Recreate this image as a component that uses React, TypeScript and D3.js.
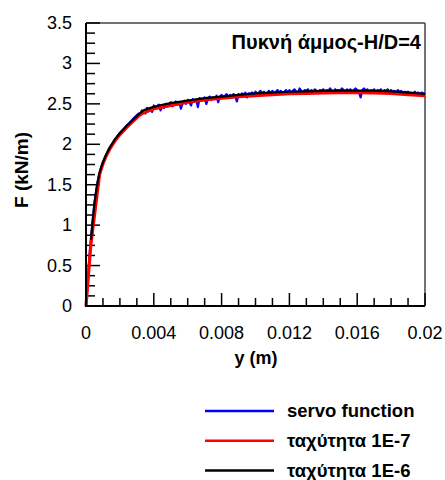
import React from "react";
import * as d3 from "d3";

const W = 445;
const H = 480;
const M = { left: 86, right: 425, top: 23, bottom: 306 };

const yTickLabels = ["0", "0.5", "1", "1.5", "2", "2.5", "3", "3.5"];
const xTickLabels = ["0", "0.004", "0.008", "0.012", "0.016", "0.02"];
const seriesNames = ["servo function", "ταχύτητα 1E-7", "ταχύτητα 1E-6"];
const seriesColors = ["#0000ff", "#ff0000", "#000000"];
const title = "Πυκνή άμμος-H/D=4";

// 1E-6 (black)
const blackX = [0.0003, 0.0004, 0.0005, 0.0006, 0.0007, 0.0008, 0.0009, 0.001, 0.0012, 0.0014, 0.0017, 0.002, 0.0024, 0.0028, 0.0031, 0.0034, 0.0038, 0.0043, 0.005, 0.006, 0.007, 0.008, 0.009, 0.01, 0.011, 0.012, 0.013, 0.014, 0.015, 0.016, 0.017, 0.018, 0.019, 0.0197, 0.02];
const blackF = [0.82, 1.07, 1.27, 1.43, 1.55, 1.65, 1.72, 1.78, 1.88, 1.96, 2.06, 2.14, 2.23, 2.31, 2.37, 2.42, 2.45, 2.48, 2.51, 2.54, 2.57, 2.59, 2.61, 2.63, 2.64, 2.65, 2.655, 2.66, 2.663, 2.665, 2.662, 2.655, 2.64, 2.628, 2.62];

// 1E-7 (red)
const redX = [0, 0.00028, 0.0008, 0.001, 0.0012, 0.0014, 0.0017, 0.002, 0.0024, 0.0028, 0.0031, 0.0034, 0.004, 0.005, 0.006, 0.007, 0.008, 0.009, 0.01, 0.011, 0.012, 0.013, 0.014, 0.015, 0.016, 0.017, 0.018, 0.019, 0.02];
const redF = [0, 0.75, 1.63, 1.76, 1.86, 1.94, 2.04, 2.12, 2.21, 2.29, 2.35, 2.39, 2.44, 2.48, 2.52, 2.55, 2.57, 2.59, 2.60, 2.615, 2.625, 2.63, 2.635, 2.64, 2.64, 2.635, 2.63, 2.615, 2.60];

// servo function (blue): smooth start, then noisy samples every 0.0001 from 0.003
const blueEarlyX = [0, 0.0001, 0.0002, 0.0003, 0.0005, 0.0007, 0.001, 0.0014, 0.002, 0.0025, 0.0029];
const blueEarlyF = [0, 0.3, 0.6, 0.86, 1.28, 1.55, 1.78, 1.96, 2.14, 2.25, 2.34];
const blueNoisyStart = 0.003;
const blueNoisyStep = 0.0001;
const blueNoisyF = [
  2.36, 2.38, 2.37, 2.42, 2.40, 2.38, 2.45, 2.41, 2.43, 2.40,
  2.48, 2.44, 2.47, 2.49, 2.42, 2.48, 2.45, 2.50, 2.47, 2.49,
  2.52, 2.47, 2.50, 2.53, 2.49, 2.52, 2.44, 2.51, 2.54, 2.50,
  2.55, 2.52, 2.48, 2.56, 2.53, 2.55, 2.46, 2.57, 2.54, 2.56,
  2.58, 2.50, 2.57, 2.59, 2.55, 2.58, 2.56, 2.60, 2.52, 2.59,
  2.61, 2.58, 2.60, 2.62, 2.57, 2.61, 2.59, 2.62, 2.60, 2.53,
  2.62, 2.60, 2.63, 2.61, 2.64, 2.58, 2.63, 2.62, 2.64, 2.61,
  2.65, 2.62, 2.64, 2.66, 2.63, 2.65, 2.61, 2.64, 2.66, 2.63,
  2.66, 2.63, 2.65, 2.67, 2.64, 2.66, 2.62, 2.65, 2.67, 2.64,
  2.67, 2.64, 2.66, 2.68, 2.65, 2.63, 2.69, 2.66, 2.64, 2.67,
  2.66, 2.68, 2.64, 2.67, 2.65, 2.68, 2.66, 2.63, 2.67, 2.66,
  2.68, 2.65, 2.67, 2.66, 2.69, 2.66, 2.64, 2.68, 2.66, 2.67,
  2.66, 2.69, 2.67, 2.65, 2.68, 2.66, 2.68, 2.65, 2.67, 2.69,
  2.67, 2.65, 2.58, 2.67, 2.69, 2.66, 2.68, 2.65, 2.67, 2.66,
  2.68, 2.65, 2.67, 2.66, 2.68, 2.64, 2.67, 2.66, 2.68, 2.65,
  2.67, 2.65, 2.66, 2.64, 2.67, 2.65, 2.66, 2.63, 2.65, 2.64,
  2.65, 2.63, 2.64, 2.62, 2.65, 2.63, 2.64, 2.62, 2.64, 2.63,
  2.62,
];

const FONT = "'Liberation Sans', Arial, Helvetica, sans-serif";

export default function App() {
  const x = d3.scaleLinear().domain([0, 0.02]).range([M.left, M.right]);
  const y = d3.scaleLinear().domain([0, 3.5]).range([M.bottom, M.top]);
  const line = d3
    .line<[number, number]>()
    .x((d) => x(d[0]))
    .y((d) => y(d[1]));

  const black: [number, number][] = blackX.map((v, i) => [v, blackF[i]]);
  const red: [number, number][] = redX.map((v, i) => [v, redF[i]]);
  const blue: [number, number][] = [
    ...blueEarlyX.map((v, i) => [v, blueEarlyF[i]] as [number, number]),
    ...blueNoisyF.map((f, i) => [blueNoisyStart + i * blueNoisyStep, f] as [number, number]),
  ];

  const yTicks = d3.range(0, 28 + 1).map((i) => i * 0.125);
  const xTicks = d3.range(0, 20 + 1).map((i) => i * 0.001);

  return (
    <svg
      width={W}
      height={H}
      style={{ position: "absolute", left: 0, top: 0, background: "#fff" }}
      fontFamily={FONT}
    >
      <rect x={0} y={0} width={W} height={H} fill="#fff" />
      {/* frame */}
      <line x1={M.left} x2={M.right} y1={M.top} y2={M.top} stroke="#444" strokeWidth={1.5} />
      <line x1={M.right} x2={M.right} y1={M.top} y2={M.bottom} stroke="#444" strokeWidth={1.5} />
      {/* y ticks */}
      {yTicks.map((t, i) => (
        <line
          key={"yt" + i}
          x1={M.left}
          x2={M.left + (i % 4 === 0 ? 14 : 9)}
          y1={y(t)}
          y2={y(t)}
          stroke="#000"
          strokeWidth={1.5}
        />
      ))}
      {/* x ticks */}
      {xTicks.map((t, i) => (
        <line
          key={"xt" + i}
          x1={x(t)}
          x2={x(t)}
          y1={M.bottom}
          y2={M.bottom - (i % 4 === 0 ? 13 : 8)}
          stroke="#000"
          strokeWidth={1.5}
        />
      ))}
      {/* data */}
      <path d={line(blue) || ""} fill="none" stroke={seriesColors[0]} strokeWidth={2.2} strokeLinejoin="round" />
      <path d={line(red) || ""} fill="none" stroke={seriesColors[1]} strokeWidth={3.2} strokeLinejoin="round" />
      <path d={line(black) || ""} fill="none" stroke={seriesColors[2]} strokeWidth={2.2} strokeLinejoin="round" />
      {/* axes */}
      <line x1={M.left} x2={M.left} y1={M.top} y2={M.bottom + 1} stroke="#000" strokeWidth={2} />
      <line x1={M.left - 1} x2={M.right} y1={M.bottom} y2={M.bottom} stroke="#000" strokeWidth={2} />
      {/* y tick labels */}
      {yTickLabels.map((s) => (
        <text
          key={"yl" + s}
          x={72}
          y={y(+s)}
          textAnchor="end"
          dominantBaseline="central"
          fontSize={18}
          fill="#000"
        >
          {s}
        </text>
      ))}
      {/* x tick labels */}
      {xTickLabels.map((s) => (
        <text key={"xl" + s} x={x(+s)} y={339} textAnchor="middle" fontSize={18} fill="#000">
          {s}
        </text>
      ))}
      {/* axis titles */}
      <text x={256} y={364} textAnchor="middle" fontSize={18} fontWeight="bold">
        y (m)
      </text>
      <text
        transform="translate(28,170) rotate(-90)"
        textAnchor="middle"
        fontSize={19}
        fontWeight="bold"
      >
        F (kN/m)
      </text>
      {/* title */}
      <text x={421} y={49} textAnchor="end" fontSize={20} fontWeight="bold">
        {title}
      </text>
      {/* legend */}
      {seriesNames.map((n, i) => (
        <g key={"lg" + i} transform={`translate(0,${411 + i * 29.8})`}>
          <line x1={205} x2={274} y1={0} y2={0} stroke={seriesColors[i]} strokeWidth={2.5} />
          <text x={287} y={6} fontSize={18.5} fontWeight="bold">
            {n}
          </text>
        </g>
      ))}
    </svg>
  );
}
